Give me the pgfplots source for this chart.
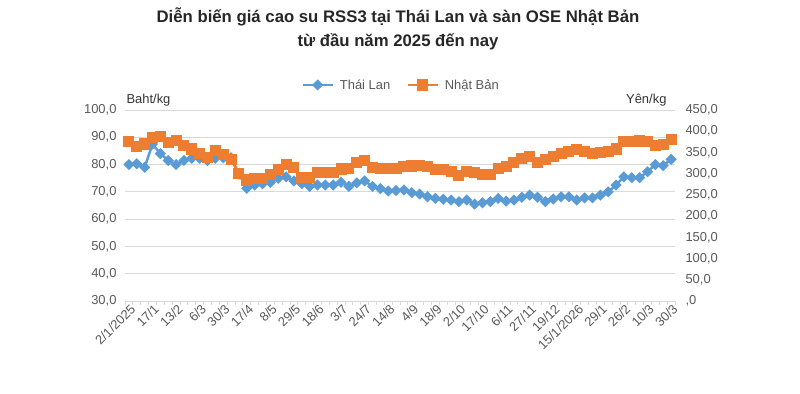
\documentclass[border=0pt]{standalone}
\usepackage{fontspec}
\setmainfont{Liberation Sans}
\usepackage{pgfplots}
\usepackage{pgfplotstable}
\pgfplotsset{compat=1.18}
\definecolor{tlblue}{HTML}{5B9BD5}
\definecolor{jporange}{HTML}{ED7D31}
\definecolor{gridc}{HTML}{D9D9D9}
\definecolor{txt}{HTML}{595959}

\pgfplotstableread{
i th jp
0 80 375
1 80.3 363
2 79 370
3 87.5 386
4 84 387
5 81.5 373
6 80 379
7 81.5 367
8 82.3 358
9 82.3 347
10 81.5 338
11 82.3 355
12 82.5 345
13 82.5 334
14 76.5 300
15 71.3 285
16 72.5 288
17 73 288
18 73.5 297
19 75 309
20 75.5 321
21 74 315
22 73 290
23 72 292
24 72.5 302
25 72.5 302
26 72.5 302
27 73.5 311
28 72 313
29 73.3 327
30 74 330
31 72 314
32 71.2 313
33 70.3 313
34 70.5 313
35 70.7 316
36 69.7 318
37 69.2 320
38 68.2 316
39 67.6 309
40 67.3 309
41 67 305
42 66.4 295
43 67 305
44 65.5 303
45 66 299
46 66.4 299
47 67.6 313
48 66.6 316
49 67 326
50 68 336
51 68.8 340
52 68 326
53 66.4 333
54 67.4 340
55 68.2 348
56 68.2 353
57 67 356
58 67.8 352
59 67.8 348
60 68.8 350
61 70 352
62 72.5 358
63 75.5 375
64 75.2 375
65 75.2 377
66 77.4 376
67 80 366
68 79.6 369
69 81.9 380
}\data

\pgfplotsset{
  common/.style={
    at={(125bp,93bp)}, anchor=south west,
    scale only axis, width=550bp, height=191bp,
    xmin=-0.5, xmax=69.5,
    major tick length=0pt,
    tick label style={font=\fontsize{13}{15}\selectfont, text=txt},
    legend image code/.code={\draw[mark repeat=2, mark phase=2, ##1] plot coordinates {(0bp,0bp) (15bp,0bp) (30bp,0bp)}; \path (34bp,0bp);},
  },
}

\begin{document}
\begin{tikzpicture}
\path[use as bounding box] (0,0) rectangle (800bp,394bp);
\node[font=\fontsize{16.8}{20}\selectfont\bfseries, text=black!85, anchor=base] at (398bp,371bp) {Diễn biến giá cao su RSS3 tại Thái Lan và sàn OSE Nhật Bản};
\node[font=\fontsize{16.8}{20}\selectfont\bfseries, text=black!85, anchor=base] at (398bp,347bp) {từ đầu năm 2025 đến nay};

\begin{axis}[common,
  clip=false,
  ymin=30, ymax=100, ytick={30,40,...,100},
  ymajorgrids, major grid style={gridc, line width=0.75bp},
  separate axis lines,
  axis x line*=bottom, axis y line*=left,
  x axis line style={gridc, line width=0.75bp, -},
  y axis line style={draw=none},
  xtick={0,3,...,69},
  xticklabels={2/1/2025,17/1,13/2,6/3,30/3,17/4,8/5,29/5,18/6,3/7,24/7,14/8,4/9,18/9,2/10,17/10,6/11,27/11,19/12,15/1/2026,29/1,26/2,10/3,30/3},
  minor xtick={-0.5,0.5,...,69.5},
  minor tick length=4bp, tick align=outside,
  minor tick style={gridc, line width=0.75bp},
  xticklabel style={rotate=45, anchor=north east, inner sep=1bp, yshift=-1bp},
  yticklabel style={anchor=east, xshift=-5bp},
  /pgf/number format/.cd, fixed, fixed zerofill, precision=1, use comma, assume math mode=true,
]
\addplot[tlblue, line width=2.5bp, mark=square*, mark size=2.7bp, mark options={rotate=45, solid}] table[x=i, y=th] {\data};
\node[anchor=base west, font=\fontsize{13}{15}\selectfont, text=black!80] at (rel axis cs:0,1) [xshift=-2bp, yshift=6bp] {Baht/kg};
\node[anchor=base east, font=\fontsize{13}{15}\selectfont, text=black!80] at (rel axis cs:1,1) [xshift=-5bp, yshift=6bp] {Yên/kg};
\end{axis}

\begin{axis}[common,
  ymin=0, ymax=450, ytick={0,50,...,450},
  yticklabels={{,0},{50,0},{100,0},{150,0},{200,0},{250,0},{300,0},{350,0},{400,0},{450,0}},
  axis x line=none, axis y line*=right,
  y axis line style={draw=none},
  yticklabel style={anchor=west, xshift=7bp},
  legend columns=2,
  legend style={at={(0.502,1.131)}, anchor=center, draw=none, fill=none,
    font=\fontsize{13}{15}\selectfont, text=txt,
    /tikz/every even column/.append style={column sep=14bp}},
]
\addlegendimage{tlblue, line width=2.5bp, mark=square*, mark size=2.7bp, mark options={rotate=45, solid}}
\addlegendentry{Thái Lan}
\addplot[jporange, line width=2.5bp, mark=square*, mark size=4.3bp, mark options={solid}] table[x=i, y=jp] {\data};
\addlegendentry{Nhật Bản}
\end{axis}
\end{tikzpicture}
\end{document}
